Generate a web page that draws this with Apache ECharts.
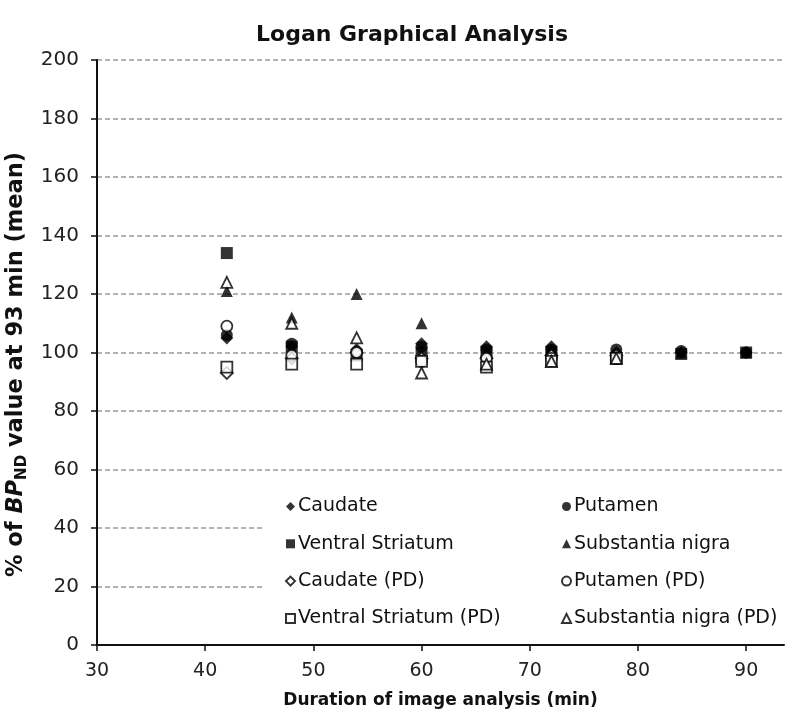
<!DOCTYPE html>
<html>
<head>
<meta charset="utf-8">
<script src="https://cdn.jsdelivr.net/npm/echarts@6/dist/echarts.min.js"></script>
<style>
html,body{margin:0;padding:0;background:#fff;}
#chart{width:791px;height:713px;}
</style>
</head>
<body>
<div id="chart"></div>
<script>
// Duration of image analysis (min)
var durations = [42, 48, 54, 60, 66, 72, 78, 84, 90];
var durationsPD = [42, 48, 54, 60, 66, 72, 78];

// % of BPND value at 93 min (mean)
var caudate      = [105, 102, 101, 103, 102, 102, 100, 100, 100];
var putamen      = [106, 103, 100, 102, 101, 101, 101, 100.5, 100];
var ventralStr   = [134, 102, 99, 100, 100, 100, 98, 99.5, 100];
var substNigra   = [121, 112, 120, 110, 100, 101, 99, 100, 100];
var caudatePD    = [93, 98, 100, 98, 98, 99, 99];
var putamenPD    = [109, 99, 100, 97, 98, 98, 98];
var ventralStrPD = [95, 96, 96, 97, 95, 97, 98];
var substNigraPD = [124, 110, 105, 93, 96, 97, 98];

var seriesNames = ['Caudate', 'Putamen', 'Ventral Striatum', 'Substantia nigra',
  'Caudate (PD)', 'Putamen (PD)', 'Ventral Striatum (PD)', 'Substantia nigra (PD)'];
var yTicks = [0, 20, 40, 60, 80, 100, 120, 140, 160, 180, 200];
var xTicks = [30, 40, 50, 60, 70, 80, 90];

function pairs(xs, ys) { return ys.map(function (v, i) { return [xs[i], v]; }); }

var FONT = '"DejaVu Sans", "Liberation Sans", Arial, sans-serif';

function mk(name, xs, ys, symbol, size, open) {
  return {
    name: name, type: 'scatter', data: pairs(xs, ys),
    symbol: symbol, symbolSize: size,
    itemStyle: open ? { color: '#fff', borderColor: '#000', borderWidth: 1.8 }
                    : { color: '#000', borderColor: '#000', borderWidth: 0 },
    emphasis: { disabled: true }
  };
}

var series = [
  mk(seriesNames[0], durations, caudate, 'diamond', 13, false),
  mk(seriesNames[1], durations, putamen, 'circle', 12, false),
  mk(seriesNames[2], durations, ventralStr, 'rect', 12, false),
  mk(seriesNames[3], durations, substNigra, 'triangle', 12, false),
  mk(seriesNames[4], durationsPD, caudatePD, 'diamond', 12, true),
  mk(seriesNames[5], durationsPD, putamenPD, 'circle', 11, true),
  mk(seriesNames[6], durationsPD, ventralStrPD, 'rect', 11, true),
  mk(seriesNames[7], durationsPD, substNigraPD, 'triangle', 11, true)
];

var legendCommon = {
  orient: 'vertical', itemGap: 18.3, itemWidth: 9, itemHeight: 9,
  textStyle: { fontFamily: FONT, fontSize: 19, color: '#111', padding: [0, 0, 0, -2] },
  selectedMode: false, z: 10
};

var chart = echarts.init(document.getElementById('chart'), null, { renderer: 'canvas' });
chart.setOption({
  animation: false,
  backgroundColor: '#fff',
  title: {
    text: 'Logan Graphical Analysis', left: 251, top: 19,
    textStyle: { fontFamily: FONT, fontSize: 22, fontWeight: 'bold', color: '#111' }
  },
  grid: { left: 97, right: 7, top: 60, bottom: 68, containLabel: false, outerBoundsMode: 'none' },
  graphic: [{
    type: 'rect', z: 5, silent: true,
    shape: { x: 262, y: 480, width: 529, height: 140 },
    style: { fill: '#fff' }
  }],
  legend: [
    Object.assign({ left: 280, top: 492, data: [seriesNames[0], seriesNames[2], seriesNames[4], seriesNames[6]] }, legendCommon),
    Object.assign({ left: 556, top: 492, data: [seriesNames[1], seriesNames[3], seriesNames[5], seriesNames[7]] }, legendCommon)
  ],
  xAxis: {
    type: 'value', min: 30, max: 93.5, interval: 10,
    name: 'Duration of image analysis (min)', nameLocation: 'middle', nameGap: 47,
    nameTextStyle: { fontFamily: FONT, fontSize: 17, fontWeight: 'bold', color: '#111' },
    axisLine: { lineStyle: { color: '#111', width: 2 } },
    axisTick: { show: true, inside: false, length: 6, customValues: xTicks, lineStyle: { color: '#111', width: 1.5 } },
    axisLabel: { customValues: xTicks, margin: 17, fontFamily: FONT, fontSize: 19, color: '#222' },
    splitLine: { show: false }
  },
  yAxis: {
    type: 'value', min: 0, max: 200, interval: 20,
    name: '{a|% of }{b|BP}{c|ND}{a| value at 93 min (mean)}',
    nameLocation: 'middle', nameGap: 63, nameRotate: 90,
    nameTextStyle: {
      padding: [0, 24, 0, 0],
      rich: {
        a: { fontFamily: FONT, fontSize: 22.5, fontWeight: 'bold', color: '#111' },
        b: { fontFamily: FONT, fontSize: 22.5, fontWeight: 'bold', fontStyle: 'italic', color: '#111' },
        c: { fontFamily: FONT, fontSize: 15, fontWeight: 'bold', color: '#111', verticalAlign: 'bottom', lineHeight: 28 }
      }
    },
    axisLine: { show: true, lineStyle: { color: '#111', width: 2 } },
    axisTick: { show: true, inside: false, length: 6, lineStyle: { color: '#111', width: 1.5 } },
    axisLabel: { margin: 18, fontFamily: FONT, fontSize: 20, color: '#222' },
    splitLine: { show: true, lineStyle: { color: '#999', type: [5, 3], width: 1.5 } }
  },
  series: series
});
</script>
</body>
</html>
